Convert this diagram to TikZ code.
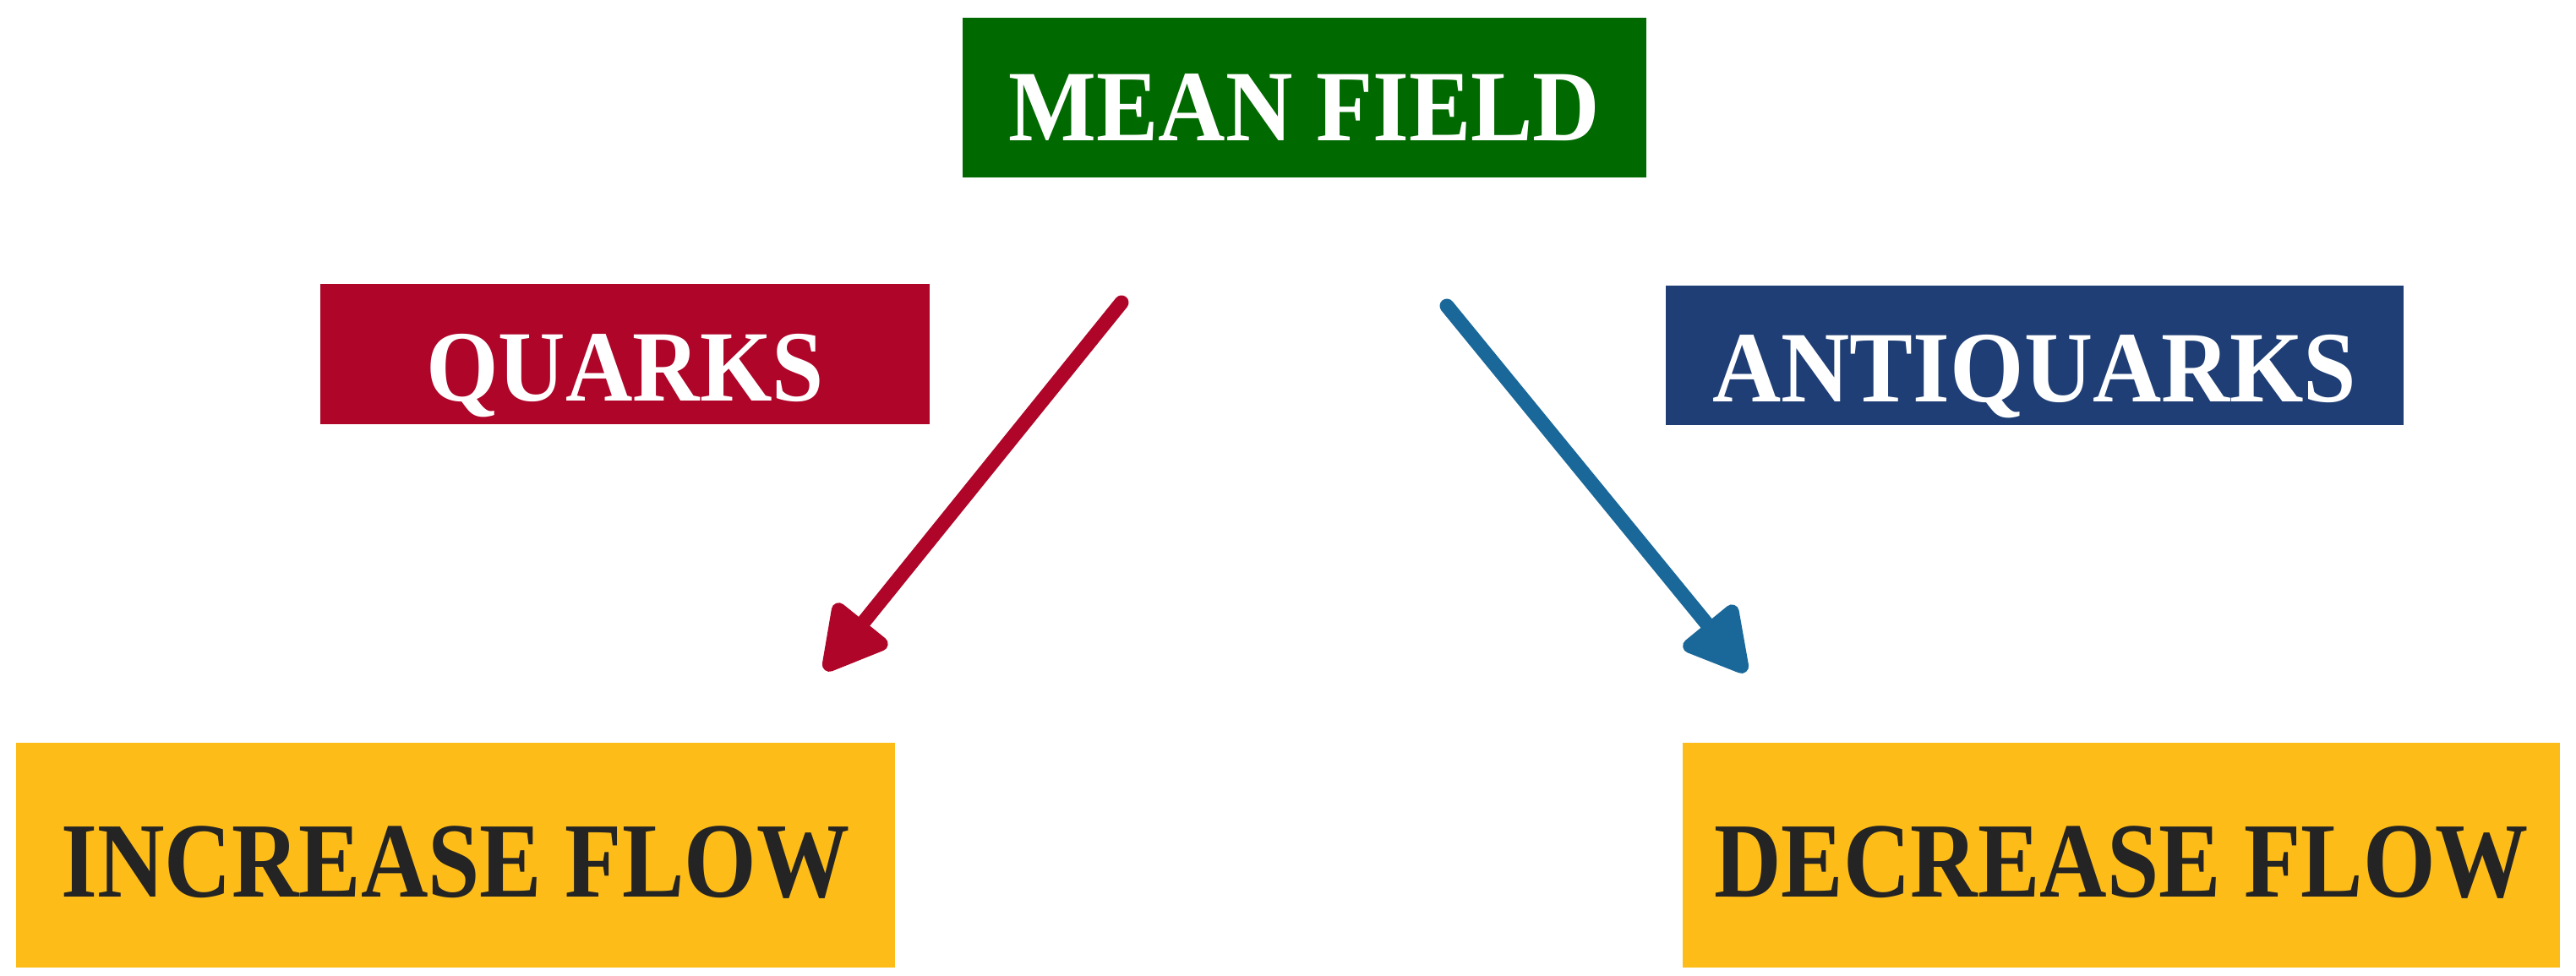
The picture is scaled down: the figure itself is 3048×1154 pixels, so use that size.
\documentclass[tikz,border=0pt]{standalone}
\usepackage{fontspec}
\setmainfont{Liberation Serif}
\usetikzlibrary{arrows.meta}
\definecolor{mfgreen}{RGB}{0,105,0}
\definecolor{qred}{RGB}{174,5,41}
\definecolor{aqblue}{RGB}{31,62,117}
\definecolor{flowyellow}{RGB}{253,188,24}
\definecolor{flowtext}{RGB}{36,36,36}
\definecolor{arrblue}{RGB}{26,104,153}
\tikzset{
  box/.style={draw=none, inner sep=0pt, text depth=0pt,
    font=\fontsize{34}{34}\selectfont\bfseries},
  flowbox/.style={box, fill=flowyellow, text=flowtext, minimum height=2.66cm,
    text height=0.98cm, font=\fontsize{36}{36}\selectfont\bfseries},
  arr/.style={line width=0.17cm, line cap=round,
    -{Triangle[length=0.84cm,width=0.88cm,round]}},
}
\newcommand{\sq}[2][0.9]{\scalebox{#1}[1]{#2}}
\begin{document}
\begin{tikzpicture}[x=0.01cm,y=-0.01cm]
\useasboundingbox (0,0) rectangle (3048,1154);
\node[box, fill=mfgreen, text=white, minimum width=8.09cm, minimum height=1.89cm, text height=1.02cm]
  (mf) at (1543.5,115.5) {\sq[0.92]{MEAN FIELD}};
\node[box, fill=qred, text=white, minimum width=7.21cm, minimum height=1.66cm, text height=1.10cm]
  (q) at (739.5,419) {\sq[0.92]{QUARKS}};
\node[box, fill=aqblue, text=white, minimum width=8.73cm, minimum height=1.65cm, text height=1.10cm]
  (aq) at (2407.5,420.5) {\sq[0.94]{ANTIQUARKS}};
\node[flowbox, minimum width=10.40cm]
  (inc) at (539,1012) {\sq[0.87]{INCREASE FLOW}};
\node[flowbox, minimum width=10.38cm]
  (dec) at (2510,1012) {\sq[0.87]{DECREASE FLOW}};
\coordinate (rs) at (1327,358);
\coordinate (re) at (976,793);
\coordinate (bs) at (1712,362);
\coordinate (be) at (2066,795);
\draw[arr, qred] (rs) -- (re);
\draw[arr, arrblue] (bs) -- (be);
\end{tikzpicture}
\end{document}
